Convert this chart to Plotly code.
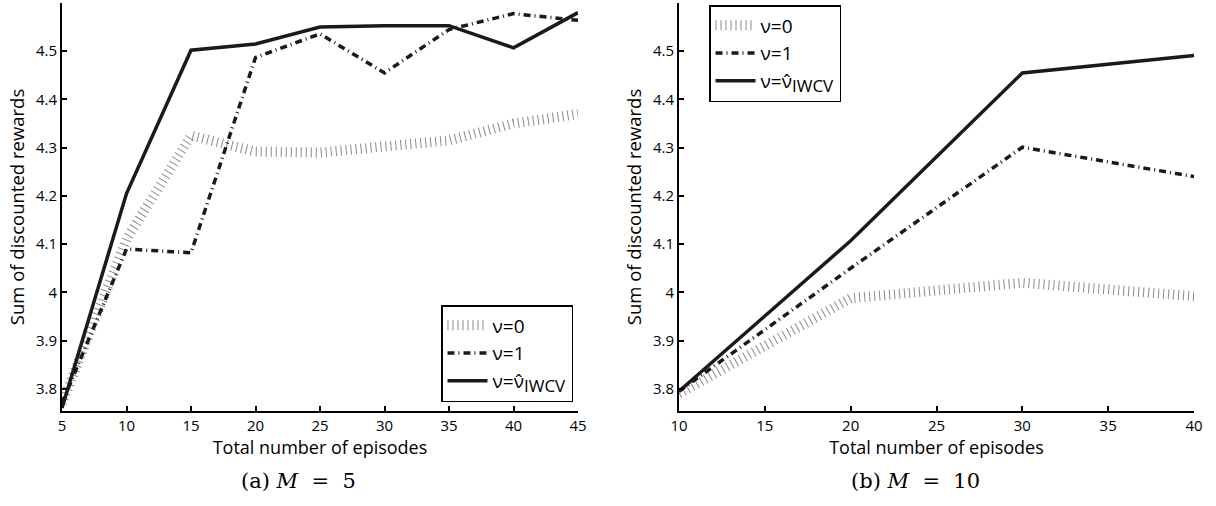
import plotly.graph_objects as go

# ---- data ----
x_a = [5, 10, 15, 20, 25, 30, 35, 40, 45]
nu0_a = [3.77, 4.11, 4.325, 4.292, 4.29, 4.300, 4.315, 4.350, 4.370]
nu1_a = [3.77, 4.090, 4.082, 4.487, 4.536, 4.455, 4.545, 4.578, 4.564]
iwcv_a = [3.76, 4.205, 4.502, 4.515, 4.550, 4.553, 4.553, 4.507, 4.580]

x_b = [10, 20, 30, 40]
nu0_b = [3.790, 3.988, 4.020, 3.992]
nu1_b = [3.795, 4.050, 4.301, 4.240]
iwcv_b = [3.795, 4.107, 4.455, 4.491]

xticks_a = [5, 10, 15, 20, 25, 30, 35, 40, 45]
xticks_b = [10, 15, 20, 25, 30, 35, 40]
yticks = [3.8, 3.9, 4.0, 4.1, 4.2, 4.3, 4.4, 4.5]
ytext = ["3.8", "3.9", "4", "4.1", "4.2", "4.3", "4.4", "4.5"]

names = ["\u03bd=0", "\u03bd=1",
         "\u03bd=\u03bd\u0302<sub><span style='font-size:17px'>IWCV</span></sub>"]
NB = "\u00a0"
captions = [f"(a){NB}<i>M</i>{NB}{NB}={NB}{NB}5", f"(b){NB}<i>M</i>{NB}{NB}={NB}{NB}10"]
xtitle = "Total number of episodes"
ytitle = "Sum of discounted rewards"

FONT = "Open Sans"
styles = [
    dict(color="#8a8a8a", width=10, dash="1px,4px"),
    dict(color="#1a1a1a", width=3.5, dash="7px,4px,1px,4px"),
    dict(color="#1a1a1a", width=3.5, dash="solid"),
]

fig = go.Figure()
panels = [
    (x_a, [nu0_a, nu1_a, iwcv_a], "x", "y", "legend"),
    (x_b, [nu0_b, nu1_b, iwcv_b], "x2", "y2", "legend2"),
]
for xs, series, xa, ya, lg in panels:
    for nm, ys, st in zip(names, series, styles):
        fig.add_trace(go.Scatter(
            x=xs, y=ys, mode="lines", name=nm, line=st,
            xaxis=xa, yaxis=ya, legend=lg, showlegend=True,
        ))

axis_common = dict(
    showline=True, linecolor="black", linewidth=2, showgrid=False,
    zeroline=False, ticks="inside", ticklen=5, tickwidth=1.5, tickcolor="black",
    tickfont=dict(family=FONT, size=15, color="black"), mirror=False,
    automargin=False,
)

ydom = [(506 - 411) / 506, (506 - 3) / 506]
W = 1216
fig.update_layout(
    width=1216, height=506,
    margin=dict(l=0, r=0, t=0, b=0, autoexpand=False),
    paper_bgcolor="white", plot_bgcolor="white",
    font=dict(family=FONT, color="black"),
    xaxis=dict(domain=[62 / W, 578 / W], range=[5, 45], tickvals=xticks_a,
               title=dict(text=xtitle, font=dict(size=18), standoff=0),
               anchor="y", **axis_common),
    yaxis=dict(domain=ydom, range=[3.754, 4.6], tickvals=yticks, ticktext=ytext,
               title=dict(text=ytitle, font=dict(size=18.5), standoff=6),
               anchor="x", **axis_common),
    xaxis2=dict(domain=[679 / W, 1194 / W], range=[10, 40], tickvals=xticks_b,
                title=dict(text=xtitle, font=dict(size=18), standoff=0),
                anchor="y2", **axis_common),
    yaxis2=dict(domain=ydom, range=[3.754, 4.6], tickvals=yticks, ticktext=ytext,
                title=dict(text=ytitle, font=dict(size=18.5), standoff=6),
                anchor="x2", **axis_common),
    legend=dict(x=573 / W, y=(506 - 305) / 506, xanchor="right", yanchor="top",
                bordercolor="black", borderwidth=1.5, bgcolor="white",
                font=dict(family=FONT, size=19), tracegroupgap=0,
                itemwidth=40),
    legend2=dict(x=709 / W, y=(506 - 5) / 506, xanchor="left", yanchor="top",
                 bordercolor="black", borderwidth=1.5, bgcolor="white",
                 font=dict(family=FONT, size=19), tracegroupgap=0,
                 itemwidth=40),
)

for cx, cap in zip([298 / W, 915 / W], captions):
    fig.add_annotation(text=cap, x=cx, y=(506 - 481) / 506, xref="paper", yref="paper",
                       xanchor="center", yanchor="middle",
                       showarrow=False, font=dict(family="DejaVu Serif", size=21))

fig.write_html("out.html", config={"displayModeBar": False},
               post_script="document.body.style.margin='0';")
